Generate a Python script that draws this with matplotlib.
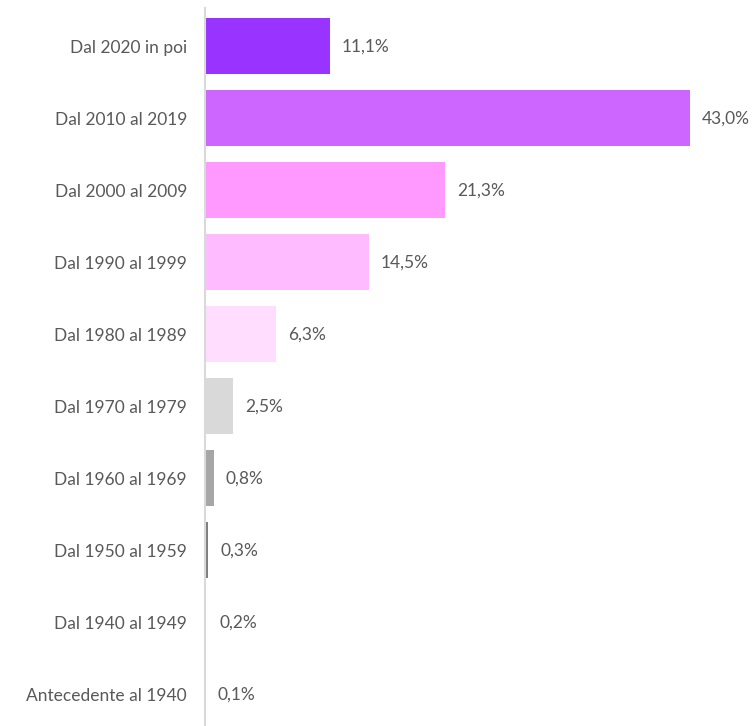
import matplotlib.pyplot as plt

categories = ["Dal 2020 in poi", "Dal 2010 al 2019", "Dal 2000 al 2009", "Dal 1990 al 1999",
              "Dal 1980 al 1989", "Dal 1970 al 1979", "Dal 1960 al 1969", "Dal 1950 al 1959",
              "Dal 1940 al 1949", "Antecedente al 1940"]
values = [11.1, 43.0, 21.3, 14.5, 6.3, 2.5, 0.8, 0.3, 0.2, 0.1]
colors = ["#9933FF", "#CC66FF", "#FF99FF", "#FFBBFF", "#FFDDFF",
          "#D9D9D9", "#A6A6A6", "#7F7F7F", "#FFFFFF", "#FFFFFF"]

plt.rcParams['font.family'] = ['Lato', 'DejaVu Sans']

fig = plt.figure(figsize=(7.56, 7.26), dpi=100)
ax = fig.add_axes([205/756, 0, 1 - 205/756, 718/726])

y = list(range(len(categories)))
ax.barh(y, values, height=0.78, color=colors)
for yi, v in zip(y, values):
    ax.text(v + 1.05, yi, f"{v:.1f}%".replace(".", ","), va="center", ha="left",
            fontsize=12.5, color="#595959")

ax.set_xlim(0, 48.85)
ax.set_ylim(9.44, -0.53)
ax.set_yticks(y)
ax.set_yticklabels(categories, fontsize=12.5, color="#595959")
ax.tick_params(axis="y", length=0, pad=13)
ax.set_xticks([])
for s in ["top", "right", "bottom"]:
    ax.spines[s].set_visible(False)
ax.spines["left"].set_color("#D9D9D9")
ax.spines["left"].set_linewidth(1.5)

fig.savefig("out.png", dpi=100)
